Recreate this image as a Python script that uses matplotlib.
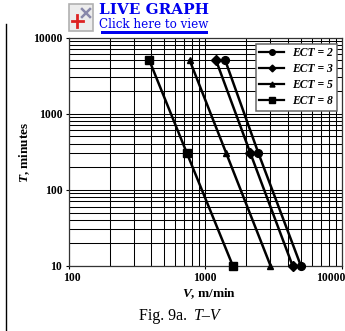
import matplotlib
matplotlib.use("Agg")
import matplotlib.pyplot as plt
from matplotlib.patches import Rectangle
from matplotlib.lines import Line2D
from matplotlib.ticker import NullFormatter, FixedLocator, FixedFormatter
from matplotlib.transforms import ScaledTranslation

plt.rcParams['font.family'] = ['Liberation Serif', 'DejaVu Serif']
plt.rcParams['mathtext.fontset'] = 'custom'
plt.rcParams['mathtext.rm'] = 'Liberation Serif:bold'
plt.rcParams['mathtext.it'] = 'Liberation Serif:italic:bold'
plt.rcParams['mathtext.bf'] = 'Liberation Serif:bold'

T_values = [5000, 300, 10]
V_ect2 = [1400, 2450, 5000]
V_ect3 = [1200, 2140, 4350]
V_ect5 = [770, 1425, 3000]
V_ect8 = [390, 735, 1590]
series_labels = ['2', '3', '5', '8']
x_ticks = [100, 1000, 10000]
y_ticks = [10, 100, 1000, 10000]

W, H = 345, 331
fig = plt.figure(figsize=(W / 100, H / 100), dpi=100, facecolor='white')
L, R, Tp, B = 68.5, 342, 37.5, 265.7
ax = fig.add_axes([L / W, 1 - B / H, (R - L) / W, (B - Tp) / H])
ax.set_xscale('log')
ax.set_yscale('log')
ax.set_xlim(100, 10000)
ax.set_ylim(10, 10000)

ax.grid(True, which='both', color='black', lw=0.75)
ax.set_axisbelow(True)
for s in ax.spines.values():
    s.set_linewidth(0.9)
    s.set_color('#333333')
ax.tick_params(which='major', length=2, width=0.8, pad=2.5)
ax.tick_params(which='minor', length=0)
ax.xaxis.set_major_locator(FixedLocator(x_ticks))
ax.xaxis.set_major_formatter(FixedFormatter([str(v) for v in x_ticks]))
ax.yaxis.set_major_locator(FixedLocator(y_ticks))
ax.yaxis.set_major_formatter(FixedFormatter([str(v) for v in y_ticks]))
ax.xaxis.set_minor_formatter(NullFormatter())
ax.yaxis.set_minor_formatter(NullFormatter())
fig.canvas.draw()
for lab in ax.get_xticklabels() + ax.get_yticklabels():
    lab.set_fontsize(8.4)
    lab.set_fontweight('bold')
# the outer x labels sit inward of their ticks
for tick, dx in zip(ax.xaxis.get_major_ticks(), [3.5, 0, -11]):
    tick.label1.set_transform(tick.label1.get_transform()
                              + ScaledTranslation(dx / 100, 0, fig.dpi_scale_trans))

styles = [('o', 5.6), ('D', 4.8), ('^', 5), ('s', 6)]
all_v = [V_ect2, V_ect3, V_ect5, V_ect8]
for v, (m, ms) in zip(all_v, styles):
    ax.plot(v, T_values, color='black', lw=1.8, marker=m, ms=ms, clip_on=False, zorder=4)

# legend
handles = [Line2D([], [], color='black', lw=1.6, marker=m, ms=ms * 0.72) for m, ms in styles]
labels = [f'ECT = {s}' for s in series_labels]
leg = ax.legend(handles, labels, loc='upper left',
                bbox_to_anchor=((255.7 - L) / (R - L), 1 - (44 - Tp) / (B - Tp)),
                borderaxespad=0, fancybox=False, framealpha=1, edgecolor='#666666',
                handlelength=2.15, handletextpad=0.68, labelspacing=0.33,
                borderpad=0.3, prop={'size': 8.4, 'weight': 'bold', 'style': 'italic'})
leg.get_frame().set_linewidth(1.1)
leg.set_zorder(6)

def px(x, y):
    return x / W, 1 - y / H

# axis titles
fig.text(*px(209, 294), r'$V$, m/min', ha='center', va='center', fontsize=9.5, fontweight='bold')
fig.text(*px(24.5, 152), r'$T$, minutes', ha='center', va='center', rotation=90, fontsize=9.5, fontweight='bold')

# caption
fig.text(*px(139, 316), 'Fig. 9a. ', ha='left', va='center', fontsize=11.5)
fig.text(*px(194, 316), 'T–V', ha='left', va='center', fontsize=11.5, style='italic')

# page rule
fig.add_artist(Line2D([5.5 / W, 5.5 / W], [0, 1 - 24 / H], color='black', lw=1))

# live graph header
fig.text(*px(99, 10), 'LIVE GRAPH', ha='left', va='center', fontsize=11, fontweight='bold',
         color='#0000ee', family='DejaVu Serif')
fig.text(*px(99, 24.5), 'Click here to view', ha='left', va='center', fontsize=8.6,
         color='#0000ee', family='DejaVu Serif')
fig.add_artist(Rectangle((101 / W, 1 - 33.5 / H), 107 / W, 2.5 / H, color='#0000ee', lw=0))

# icon
fig.add_artist(Rectangle((68.5 / W, 1 - 30.5 / H), 24 / W, 26 / H, fc='#ececec', ec='#b0b0b0', lw=1.2))
fig.add_artist(Line2D([82 / W, 90 / W], [1 - 17 / H, 1 - 9 / H], color='#8888aa', lw=1.8))
fig.add_artist(Line2D([82 / W, 90 / W], [1 - 9 / H, 1 - 17 / H], color='#8888aa', lw=1.8))
fig.add_artist(Line2D([71.5 / W, 83 / W], [1 - 21 / H, 1 - 21 / H], color='#dd2222', lw=2))
fig.add_artist(Line2D([77 / W, 77 / W], [1 - 15 / H, 1 - 27 / H], color='#dd2222', lw=2))

fig.savefig('out.png', dpi=100)
